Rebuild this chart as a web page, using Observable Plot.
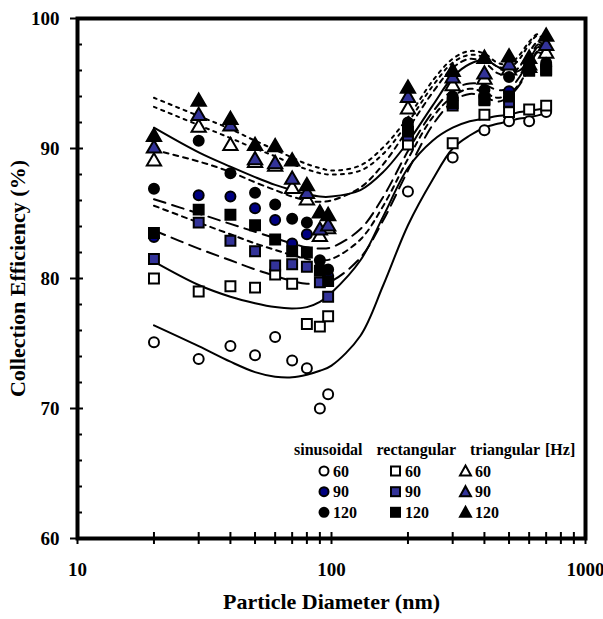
<!DOCTYPE html>
<html><head><meta charset="utf-8">
<script src="https://cdn.jsdelivr.net/npm/d3@7"></script>
<script src="https://cdn.jsdelivr.net/npm/@observablehq/plot@0.6"></script>
<style>
body{margin:0;background:#fff;}
#wrap{position:relative;width:603px;height:619px;}
#legend{position:absolute;left:0;top:0;pointer-events:none;}
</style></head><body><div id="wrap"></div>
<script>
// measured particle diameters (nm)
const diam = [20,30,40,50,60,70,80,90,97,200,300,400,500,600,700];
// collection efficiency (%) per waveform / frequency
const sin60   = [75.1,73.8,74.8,74.1,75.5,73.7,73.1,70.0,71.1,86.7,89.3,91.4,92.1,92.1,92.8];
const sin90   = [83.2,86.4,86.3,85.4,84.5,82.7,83.4,80.8,80.2,91.7,93.8,94.0,94.4,96.2,96.3];
const sin120  = [86.9,90.6,88.1,86.6,85.7,84.6,84.3,81.4,80.7,92.0,94.0,94.5,95.5,96.6,96.6];
const rect60  = [80.0,79.0,79.4,79.3,80.3,79.6,76.5,76.3,77.1,90.3,90.4,92.6,92.8,93.0,93.3];
const rect90  = [81.5,84.3,82.9,82.1,81.0,81.1,80.9,79.7,78.6,91.0,93.3,93.7,93.6,96.0,96.0];
const rect120 = [83.5,85.3,84.9,84.1,83.0,82.1,82.0,80.6,79.8,91.3,93.5,93.8,94.0,96.0,96.1];
const tri60   = [89.0,91.6,90.2,88.9,88.6,86.9,86.0,83.2,83.8,93.0,94.8,95.3,96.0,96.2,97.3];
const tri90   = [90.0,92.5,91.7,89.1,88.8,87.6,86.5,83.7,84.0,93.9,95.4,95.7,96.4,96.4,97.9];
const tri120  = [90.9,93.6,92.2,90.2,90.1,89.0,87.1,85.0,84.8,94.6,95.9,96.9,97.0,96.9,98.6];

// fitted curves, read at these diameters
const fitX = [20,30,40,50,60,70,80,90,100,130,160,200,250,300,350,400,450,500,550,600,650,700];
const fitSin60   = [76.4,74.8,73.6,72.8,72.45,72.4,72.6,72.9,73.3,75.6,79.5,84.1,87.6,90.0,91.0,91.6,91.9,92.1,92.3,92.4,92.55,92.7];
const fitRect60  = [81.3,79.5,78.6,78.1,77.8,77.7,77.8,78.2,78.9,81.4,84.8,88.5,90.6,91.6,92.1,92.3,92.5,92.6,92.8,92.9,93.0,93.1];
const fitTri60   = [91.6,89.7,88.6,87.8,87.2,86.8,86.5,86.3,86.3,86.8,88.2,90.5,93.3,95.5,96.5,96.8,96.3,95.8,96.0,96.8,97.8,97.5];
const fitSin120  = [89.9,89.0,88.2,87.4,86.8,86.3,86.0,85.9,86.0,87.0,88.8,91.5,94.3,96.2,96.9,96.6,95.8,95.6,96.3,97.4,98.2,97.8];
const fitSin90   = [85.6,84.3,83.4,82.7,82.2,81.8,81.5,81.4,81.5,83.0,85.6,89.2,92.4,94.0,94.6,94.3,93.9,94.2,95.0,96.3,97.5,97.0];
const fitRect120 = [86.1,85.0,84.2,83.6,83.1,82.7,82.4,82.3,82.4,83.8,86.3,89.8,92.8,94.5,95.0,94.9,94.5,94.6,95.5,96.8,98.0,97.6];
const fitRect90  = [83.7,82.3,81.4,80.7,80.2,79.8,79.6,79.6,79.8,81.6,84.5,88.3,91.8,93.6,94.2,94.0,93.6,94.0,94.9,96.2,97.4,96.9];
const fitTri120  = [93.9,92.5,91.5,90.6,89.9,89.3,88.8,88.5,88.3,88.7,90.1,92.4,95.2,96.9,97.5,97.3,96.6,96.5,97.2,98.2,98.8,98.2];
const fitTri90   = [93.2,91.8,90.8,90.0,89.4,88.8,88.4,88.1,88.0,88.3,89.6,92.0,94.8,96.6,97.2,97.0,96.3,96.2,96.9,98.0,98.7,98.0];

const xTicks = [10,20,30,40,50,60,70,80,90,100,200,300,400,500,600,700,800,900,1000];
const xLabels = [10,100,1000];
const yMajor = [60,70,80,90,100];
const yMinor = [62,64,66,68,72,74,76,78,82,84,86,88,92,94,96,98];

const NAVY = "#000080", BLUE = "#333399";
const series = [
  {vals: sin60,   fit: fitSin60,   symbol: "circle",   fill: "white", dash: null},
  {vals: rect60,  fit: fitRect60,  symbol: "square",   fill: "white", dash: null},
  {vals: tri60,   fit: fitTri60,   symbol: "triangle", fill: "white", dash: null},
  {vals: sin90,   fit: fitSin90,   symbol: "circle",   fill: NAVY,    dash: "5,5"},
  {vals: rect90,  fit: fitRect90,  symbol: "square",   fill: BLUE,    dash: "12,7"},
  {vals: tri90,   fit: fitTri90,   symbol: "triangle", fill: BLUE,    dash: "3,5"},
  {vals: sin120,  fit: fitSin120,  symbol: "circle",   fill: "black", dash: "5,5"},
  {vals: rect120, fit: fitRect120, symbol: "square",   fill: "black", dash: "12,7"},
  {vals: tri120,  fit: fitTri120,  symbol: "triangle", fill: "black", dash: "3,5"}
];

const lineMarks = series.map(s => Plot.line(fitX.map((x,i)=>({x, y: s.fit[i]})), {
  x: "x", y: "y", stroke: "black", strokeWidth: 2, curve: "catmull-rom",
  strokeDasharray: s.dash || undefined
}));
const dotMarks = series.map(s => Plot.dot(diam.map((x,i)=>({x, y: s.vals[i]})), {
  x: "x", y: "y", symbol: () => s.symbol, r: s.symbol === "square" ? 5.6 : (s.symbol === "triangle" ? 5.3 : 5),
  fill: s.fill, stroke: "black", strokeWidth: 2
}));

const font = {fontFamily: "Liberation Serif, Times New Roman, serif", fontWeight: "bold"};

const chart = Plot.plot({
  width: 603, height: 619,
  marginLeft: 77, marginRight: 18, marginTop: 18, marginBottom: 81,
  x: {type: "log", domain: [10,1000], axis: null},
  y: {domain: [60,100], axis: null},
  style: {fontFamily: font.fontFamily, fontWeight: "bold", background: "white", color: "black"},
  marks: [
    ...lineMarks,
    ...dotMarks,
    Plot.axisX(xTicks, {anchor: "bottom", label: null, tickSize: 6, tickFormat: () => "", strokeWidth: 2}),
    Plot.axisX(xTicks, {anchor: "bottom", label: null, tickSize: -6, tickFormat: () => "", strokeWidth: 2}),
    Plot.axisX(xLabels, {anchor: "bottom", label: null, tickSize: 0, tickPadding: 24, fontSize: 19, tickFormat: d => String(d)}),
    Plot.axisY(yMajor, {anchor: "left", label: null, tickSize: 7, tickFormat: () => "", strokeWidth: 2}),
    Plot.axisY(yMajor, {anchor: "left", label: null, tickSize: -6, tickFormat: () => "", strokeWidth: 2}),
    Plot.axisY(yMinor, {anchor: "left", label: null, tickSize: -5, tickFormat: () => "", strokeWidth: 2}),
    Plot.axisY(yMajor, {anchor: "left", label: null, tickSize: 0, tickPadding: 18, fontSize: 19, tickFormat: d => String(d)}),
    Plot.frame({stroke: "black", strokeWidth: 4}),
    Plot.text(["Particle Diameter (nm)"], {frameAnchor: "bottom", dy: 70, fontSize: 22, textAnchor: "middle", ...font}),
    Plot.text(["Collection Efficiency (%)"], {frameAnchor: "left", dx: -60, rotate: -90, fontSize: 22, textAnchor: "middle", ...font})
  ]
});
document.getElementById("wrap").appendChild(chart);

// legend overlay
const legendCols = [
  {title: "sinusoidal",  tx: 294,   mx: 324,   lx: 333, symbol: "circle",   fills: ["white", NAVY, "black"]},
  {title: "rectangular", tx: 376.5, mx: 395.5, lx: 405, symbol: "square",   fills: ["white", BLUE, "black"]},
  {title: "triangular",  tx: 470,   mx: 465.5, lx: 475, symbol: "triangle", fills: ["white", BLUE, "black"]}
];
const legendFreq = ["60","90","120"];
const rowY = [471, 491.7, 512.3];
const lg = d3.select("#wrap").append("svg").attr("id","legend").attr("width",603).attr("height",619)
  .style("font-family", font.fontFamily).style("font-weight","bold").style("font-size","16px");
legendCols.forEach(c => {
  lg.append("text").attr("x", c.tx).attr("y", 449).attr("dominant-baseline","central").text(c.title);
  legendFreq.forEach((f,i) => {
    const y = rowY[i];
    let sym;
    if (c.symbol === "circle") sym = lg.append("circle").attr("cx", c.mx).attr("cy", y).attr("r", 4.5);
    else if (c.symbol === "square") sym = lg.append("rect").attr("x", c.mx-4.5).attr("y", y-4.5).attr("width", 9).attr("height", 9);
    else sym = lg.append("path").attr("d", `M${c.mx},${y-5.5}L${c.mx+5.5},${y+4.5}L${c.mx-5.5},${y+4.5}Z`);
    sym.attr("fill", c.fills[i]).attr("stroke","black").attr("stroke-width",2);
    lg.append("text").attr("x", c.lx).attr("y", y).attr("dominant-baseline","central").text(f);
  });
});
lg.append("text").attr("x", 545).attr("y", 449).attr("dominant-baseline","central").text("[Hz]");
</script></body></html>
